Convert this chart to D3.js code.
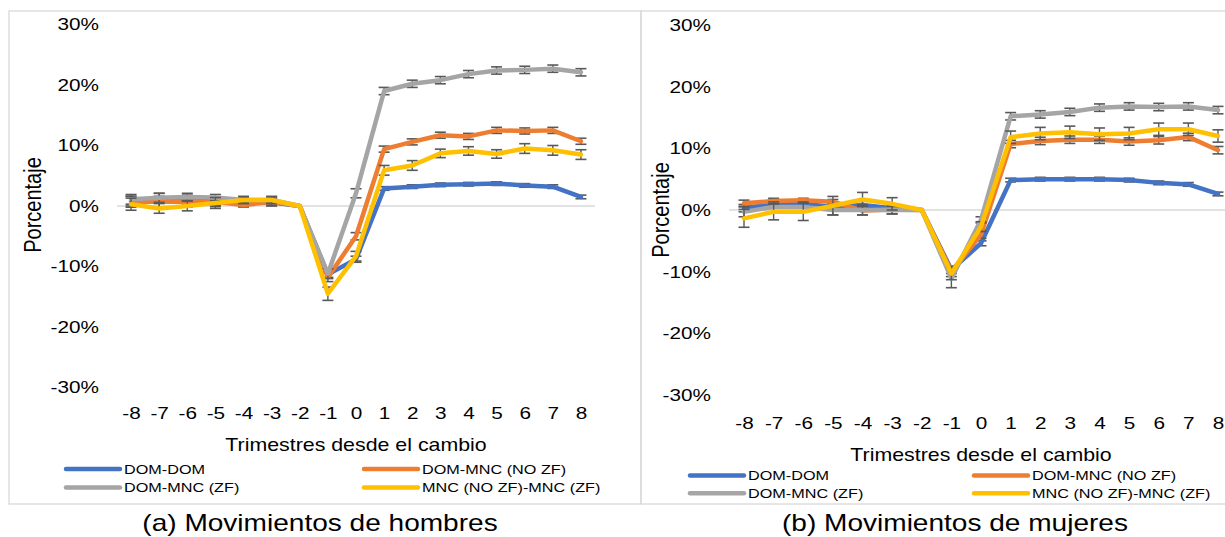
<!DOCTYPE html>
<html>
<head>
<meta charset="utf-8">
<script src="https://cdn.jsdelivr.net/npm/d3@7"></script>
<style>
  body { margin: 0; background: #fff; }
  svg { display: block; font-family: "Liberation Sans", Arial, sans-serif; }
</style>
</head>
<body>
<svg id="chart" width="1225" height="537"></svg>
<script>
// quarters since the change
var quarters = [-8, -7, -6, -5, -4, -3, -2, -1, 0, 1, 2, 3, 4, 5, 6, 7, 8]
var yTicks = [-30, -20, -10, 0, 10, 20, 30]
var seriesNames = ['DOM-DOM', 'DOM-MNC (NO ZF)', 'DOM-MNC (ZF)', 'MNC (NO ZF)-MNC (ZF)']
var colors = ['#4472C4', '#ED7D31', '#A5A5A5', '#FFC000']

// (a) hombres, values in %
var menDomDom = [0.8, 1.3, 1.0, 0.8, 0.5, 0.6, 0, -11.3, -8.8, 2.9, 3.2, 3.5, 3.6, 3.7, 3.4, 3.2, 1.5]
var menDomMncNoZf = [0.7, 0.7, 0.7, 0.7, 0.15, 0.7, 0, -11.8, -5.0, 9.4, 10.6, 11.7, 11.5, 12.5, 12.4, 12.5, 10.7]
var menDomMncZf = [1.1, 1.35, 1.5, 1.4, 1.0, 1.0, 0, -11.2, 2.1, 19.0, 20.2, 20.8, 21.8, 22.4, 22.5, 22.7, 22.1]
var menMncMnc = [0.3, -0.4, 0.0, 0.5, 1.0, 1.0, 0, -14.5, -8.3, 5.9, 6.7, 8.7, 9.1, 8.6, 9.5, 9.2, 8.5]
// error bar half widths
var menErrDomDom = [0.8, 0.8, 0.8, 0.7, 0.6, 0.6, 0, 0.5, 0.5, 0.3, 0.3, 0.3, 0.3, 0.3, 0.3, 0.3, 0.3]
var menErrDomMncNoZf = [0.9, 0.9, 0.9, 0.8, 0.3, 0.6, 0, 0.7, 0.6, 0.5, 0.5, 0.5, 0.5, 0.5, 0.5, 0.5, 0.5]
var menErrDomMncZf = [0.8, 0.75, 0.6, 0.5, 0.4, 0.5, 0, 0.8, 0.75, 0.6, 0.6, 0.6, 0.6, 0.6, 0.6, 0.6, 0.6]
var menErrMncMnc = [1.0, 0.8, 0.8, 0.9, 0.6, 0.6, 0, 1.1, 0.8, 0.8, 0.8, 0.7, 0.7, 0.7, 0.8, 0.8, 0.8]

// (b) mujeres, values in %
var womenDomDom = [0.3, 1.0, 1.0, 0.5, 0.8, 0.3, 0, -9.7, -5.4, 4.85, 5.0, 5.0, 5.0, 4.85, 4.4, 4.15, 2.6]
var womenDomMncNoZf = [1.1, 1.45, 1.6, 1.35, -0.1, 0.1, 0, -10.0, -4.0, 10.7, 11.2, 11.4, 11.4, 11.1, 11.3, 11.85, 9.7]
var womenDomMncZf = [-0.3, 0.5, 0.5, 0.0, 0.0, 0.0, 0, -11.1, -1.6, 15.2, 15.5, 15.9, 16.6, 16.8, 16.7, 16.8, 16.2]
var womenMncMnc = [-1.35, -0.3, -0.3, 0.7, 1.7, 1.0, 0, -10.3, -2.7, 11.8, 12.4, 12.6, 12.3, 12.4, 13.1, 13.1, 12.0]
var womenErrDomDom = [0.6, 0.6, 0.6, 0.5, 0.6, 0.5, 0, 0.6, 0.4, 0.3, 0.3, 0.3, 0.3, 0.3, 0.3, 0.3, 0.3]
var womenErrDomMncNoZf = [0.5, 0.45, 0.3, 0.35, 0.7, 0.75, 0, 0.8, 0.6, 0.6, 0.6, 0.6, 0.6, 0.6, 0.6, 0.6, 0.6]
var womenErrDomMncZf = [0.8, 0.8, 0.8, 0.8, 0.8, 0.6, 0, 1.5, 0.5, 0.6, 0.6, 0.6, 0.6, 0.6, 0.6, 0.6, 0.6]
var womenErrMncMnc = [1.45, 1.3, 1.4, 1.5, 1.15, 1.0, 0, 1.0, 0.8, 1.0, 1.0, 1.0, 1.0, 1.0, 1.0, 1.0, 1.0]

// the reference image is horizontally stretched, text follows it
var SX = 1.22

var svg = d3.select('#chart')

svg.append('rect')
  .attr('width', 1225)
  .attr('height', 537)
  .attr('fill', '#fff')

function stretched(g, x, y, str, size, anchor) {
  return g.append('text')
    .attr('transform', `translate(${x},${y}) scale(${SX},1)`)
    .attr('text-anchor', anchor || 'middle')
    .attr('dy', '0.36em')
    .style('font-size', size + 'px')
    .style('fill', '#000')
    .text(str)
}

function drawPanel(p) {
  var g = svg.append('g')

  // panel border
  g.append('rect')
    .attr('x', p.box[0])
    .attr('y', p.box[1])
    .attr('width', p.box[2])
    .attr('height', p.box[3])
    .attr('fill', 'none')
    .attr('stroke', '#d9d9d9')
    .attr('stroke-width', 1.3)

  var xScale = d3.scalePoint()
    .domain(quarters)
    .range(p.xRange)
    .padding(0.5)

  var yScale = d3.scaleLinear()
    .domain([-30, 30])
    .range(p.yRange)

  // zero line (horizontal axis)
  g.append('line')
    .attr('x1', p.xRange[0])
    .attr('x2', p.zeroEnd || p.xRange[1])
    .attr('y1', yScale(0))
    .attr('y2', yScale(0))
    .attr('stroke', '#d9d9d9')
    .attr('stroke-width', 1.5)

  // Y axis
  var yAxis = g.append('g')
    .attr('transform', `translate(${p.yLabelX},0)`)
    .call(d3.axisLeft(yScale)
      .tickValues(yTicks)
      .tickSize(0)
      .tickPadding(0)
      .tickFormat(d => d + '%'))
  yAxis.select('.domain').remove()
  yAxis.selectAll('text')
    .attr('transform', `scale(${SX},1)`)
    .style('font-size', '17px')
    .style('font-family', '"Liberation Sans", Arial, sans-serif')
    .style('fill', '#000')

  // X axis labels
  var xAxis = g.append('g')
    .attr('transform', `translate(0,${p.xLabelTop})`)
    .call(d3.axisBottom(xScale)
      .tickSize(0)
      .tickPadding(0)
      .tickFormat(d => String(d)))
  xAxis.select('.domain').remove()
  xAxis.selectAll('text')
    .attr('transform', `scale(${SX},1)`)
    .style('font-size', '17px')
    .style('font-family', '"Liberation Sans", Arial, sans-serif')
    .style('fill', '#000')

  stretched(g, p.xTitle[0], p.xTitle[1], 'Trimestres desde el cambio', 17.5)

  g.append('text')
    .attr('transform', `translate(${p.yTitle[0]},${p.yTitle[1]}) scale(${SX},1) rotate(-90)`)
    .attr('text-anchor', 'middle')
    .attr('dy', '0.36em')
    .style('font-size', '20px')
    .style('fill', '#000')
    .text('Porcentaje')

  var line = d3.line()
    .x((d, i) => xScale(quarters[i]))
    .y(d => yScale(d))

  p.series.forEach((s, k) => {
    var eg = g.append('g').attr('class', 'errors')
    s.values.forEach((v, i) => {
      var e = s.errors[i]
      if (!e) return
      var cx = xScale(quarters[i])
      var y1 = yScale(v - e)
      var y2 = yScale(v + e)
      eg.append('line')
        .attr('x1', cx).attr('x2', cx)
        .attr('y1', y1).attr('y2', y2)
        .attr('stroke', '#595959')
        .attr('stroke-width', 1.4)
      ;[y1, y2].forEach(yy => {
        eg.append('line')
          .attr('x1', cx - 5.5).attr('x2', cx + 5.5)
          .attr('y1', yy).attr('y2', yy)
          .attr('stroke', '#595959')
          .attr('stroke-width', 1.6)
      })
    })

    g.append('path')
      .datum(s.values)
      .attr('d', line)
      .attr('fill', 'none')
      .attr('stroke', colors[k])
      .attr('stroke-width', 4.5)
      .attr('stroke-linejoin', 'round')
      .attr('stroke-linecap', 'round')
  })

  // legend 2 x 2
  seriesNames.forEach((name, k) => {
    var lx = p.legendCols[k % 2]
    var ly = p.legendRows[Math.floor(k / 2)]
    g.append('line')
      .attr('x1', lx).attr('x2', lx + 54)
      .attr('y1', ly).attr('y2', ly)
      .attr('stroke', colors[k])
      .attr('stroke-width', 4.5)
      .attr('stroke-linecap', 'round')
    stretched(g, lx + 58, ly, name, 13.3, 'start')
  })

  stretched(g, p.caption[0], p.caption[1], p.captionText, 23)
}

drawPanel({
  box: [9, 11, 632, 493],
  xRange: [117, 595],
  yRange: [387.5, 24.5],
  yLabelX: 99,
  xLabelTop: 407,
  xTitle: [356, 445],
  yTitle: [32, 205],
  legendRows: [469, 487.5],
  legendCols: [66, 364],
  caption: [320, 523],
  captionText: '(a) Movimientos de hombres',
  series: [
    { values: menDomDom, errors: menErrDomDom },
    { values: menDomMncNoZf, errors: menErrDomMncNoZf },
    { values: menDomMncZf, errors: menErrDomMncZf },
    { values: menMncMnc, errors: menErrMncMnc }
  ]
})

drawPanel({
  box: [641, 11, 640, 493],
  xRange: [729.2, 1232.8],
  zeroEnd: 1240,
  yRange: [395, 25],
  yLabelX: 711,
  xLabelTop: 417,
  xTitle: [981, 455],
  yTitle: [660, 210],
  legendRows: [475.5, 493.3],
  legendCols: [690, 974],
  caption: [955, 523],
  captionText: '(b) Movimientos de mujeres',
  series: [
    { values: womenDomDom, errors: womenErrDomDom },
    { values: womenDomMncNoZf, errors: womenErrDomMncNoZf },
    { values: womenDomMncZf, errors: womenErrDomMncZf },
    { values: womenMncMnc, errors: womenErrMncMnc }
  ]
})
</script>
</body>
</html>
